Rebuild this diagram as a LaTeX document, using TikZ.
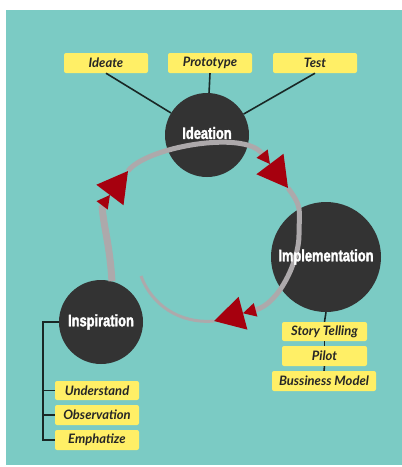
\documentclass[tikz,border=0pt]{standalone}
\usepackage{fontspec}
\setsansfont{Lato}
\newfontfamily\condfont[FakeStretch=0.78,FakeBold=2]{Liberation Sans}
\usetikzlibrary{calc}

\definecolor{bgteal}{RGB}{123,203,196}
\definecolor{noteyellow}{RGB}{255,239,102}
\definecolor{phasedark}{RGB}{51,51,51}
\definecolor{cyclegray}{RGB}{173,169,171}
\definecolor{cyclered}{RGB}{166,0,14}
\definecolor{linkdark}{RGB}{25,40,38}

% double red head: apex, direction
\newcommand{\cyclehead}[2]{%
  \fill[cyclered] (#1) -- ++(#2+150.5:34.5) -- ++(#2-90:34) -- cycle;
  \fill[cyclered] ($(#1)+(#2+180:30)$) -- ++(#2+151.7:14.8) -- ++(#2-90:14) -- cycle;
}

\begin{document}
\begin{tikzpicture}[x=1pt,y=-1pt,
  phase/.style={circle,fill=phasedark,inner sep=0pt},
  phase label/.style={text=white,inner sep=0pt,
    font=\condfont\bfseries\fontsize{16.5}{16.5}\selectfont},
  note/.style={fill=noteyellow,rounded corners=2pt,minimum width=84pt,
    minimum height=20pt,inner sep=0pt,text=black!85,
    font=\sffamily\bfseries\itshape\fontsize{13}{14}\selectfont},
  link/.style={draw=linkdark,line width=1.6pt},
  cycle line/.style={draw=cyclegray}]
\useasboundingbox (0,0) rectangle (402,467);
\fill[bgteal] (6,10) rectangle (402,465);

% Phases
\node[phase,minimum size=84pt] (ideation) at (207,135) {};
\node[phase,minimum size=110pt] (implementation) at (326,257) {};
\node[phase,minimum size=84pt] (inspiration) at (101,322) {};

% Ideation branch
\node[note] (ideate) at (106,63) {Ideate};
\node[note] (prototype) at (210,63) {Prototype};
\node[note] (test) at (315,63) {Test};
\draw[link] (ideate.south) -- (ideation);
\draw[link] (prototype.south) -- (ideation);
\draw[link] (test.south) -- (ideation);

% Implementation branch
\node[note,minimum width=85pt,minimum height=19pt] (story) at (324.5,331.5) {Story Telling};
\node[note,minimum width=85pt] (pilot) at (324.5,356) {Pilot};
\node[note,minimum width=104pt] (model) at (324,381) {Bussiness Model};
\draw[link] (implementation.south) -- (story.north);
\draw[link] (story.south) -- (pilot.north);
\draw[link] (pilot.south) -- (model.north);

% Inspiration branch
\node[note,minimum height=19pt] (understand) at (97,390.5) {Understand};
\node[note] (observation) at (97,415) {Observation};
\node[note] (emphatize) at (97,440) {Emphatize};
\draw[link] (inspiration.west) -- ++(-16,0) |- (emphatize.west);
\foreach \b in {understand,observation}
{
    \draw[link] (\b.west) -- ++(-12,0);
}

% Cycle
\coordinate (tlhead) at (128,171);
\coordinate (trhead) at (288,188);
\coordinate (bhead) at (214,321);
\draw[cycle line,line width=7pt] (inspiration.75) .. controls (110,245) and (103,225) .. ($(tlhead)+(127:43)$);
\draw[cycle line,line width=5pt] (tlhead) .. controls +(-53:30) and +(233:30) .. ($(trhead)+(233:43)$);
\draw[cycle line,line width=5pt] (trhead) .. controls +(53:25) and +(0,-25) .. (299,235) .. controls +(0,25) and +(345:25) .. ($(bhead)+(345:43)$);
\draw[cycle line,line width=3pt] (bhead) .. controls +(175:35) and +(70:30) .. (141,276);
\cyclehead{tlhead}{-53}
\cyclehead{trhead}{53}
\cyclehead{bhead}{165}

% Phase names
\node[phase label] at ([yshift=2pt]ideation.center) {Ideation};
\node[phase label] at (implementation.center) {Implementation};
\node[phase label] at (inspiration.center) {Inspiration};
\end{tikzpicture}
\end{document}
